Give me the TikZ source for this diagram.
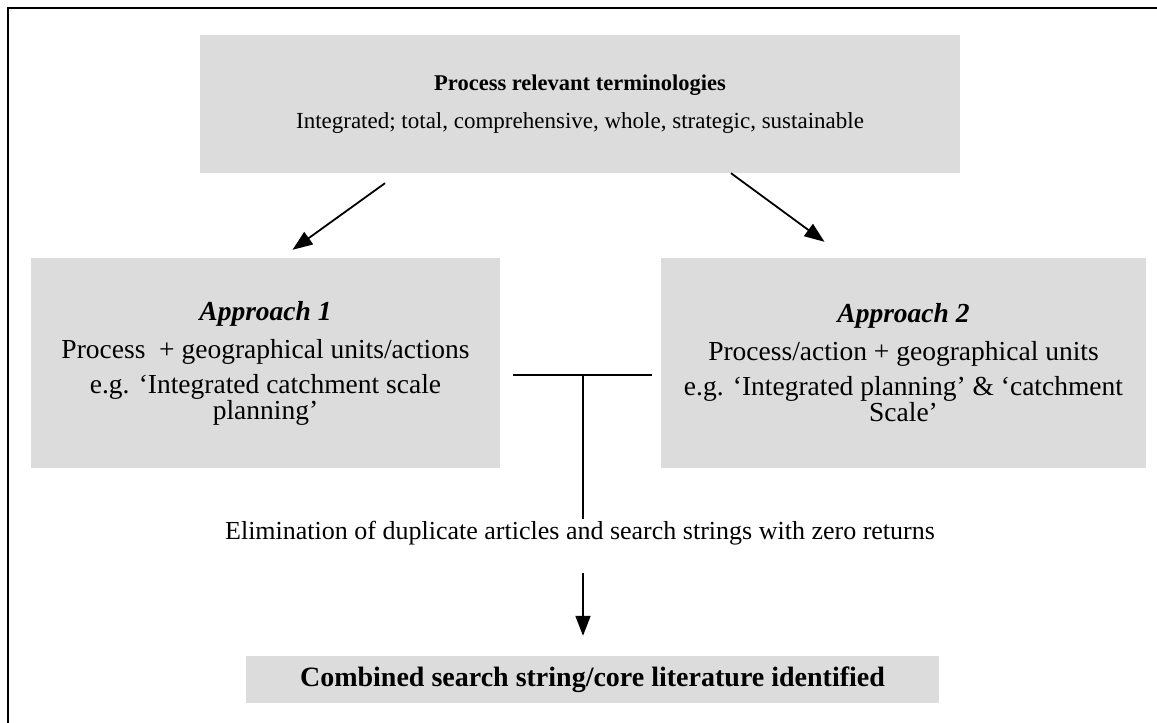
\documentclass[tikz,border=0pt]{standalone}
\usepackage{fontspec}
\setmainfont{Liberation Serif}
\usetikzlibrary{arrows.meta,positioning}
\definecolor{boxgray}{RGB}{220,220,220}

\tikzset{
    box/.style={fill=boxgray, align=center, inner sep=0pt, font=\fontsize{27.5}{26}\selectfont},
    plain/.style={align=center, inner sep=2pt, font=\fontsize{26}{28}\selectfont},
    arr/.style={line width=1.8pt, -{Triangle[length=20pt,width=15pt]}},
    link/.style={line width=1.8pt},
}

\begin{document}
\begin{tikzpicture}[x=1pt,y=-1pt]
        \useasboundingbox (0,0) rectangle (1157,723);
        \draw[line width=2pt] (8,723) -- (8,8) -- (1157,8);

        \node[box, minimum width=760, minimum height=138](terms) at (580,104)
            {\fontsize{22.5}{25}\selectfont\textbf{Process relevant terminologies}\\[12pt]
             \fontsize{23}{27}\selectfont Integrated; total, comprehensive, whole, strategic, sustainable};
        \node[box, minimum width=469, minimum height=210](app1) at (265.5,363)
            {\textbf{\textit{Approach 1}}\\[12pt]
             Process\ \ + geographical units/actions\\[9pt]
             e.g. `Integrated catchment scale\\ planning'};
        \node[box, minimum width=485, minimum height=210](app2) at (903.5,363)
            {\textbf{\textit{Approach 2}}\\[12pt]
             Process/action + geographical units\\[9pt]
             e.g. `Integrated planning' \& `catchment\\ Scale'};
        \node[plain](elim) at (580,533)
            {Elimination of duplicate articles and search strings with zero returns};
        \node[box, minimum width=693, minimum height=47](final) at (592.5,679.5)
            {\fontsize{28}{30}\selectfont\textbf{Combined search string/core literature identified}};

        % arrow ends
        \coordinate (t1) at ([shift={(-195,10)}]terms.south);
        \coordinate (a1) at ([shift={(27,-8)}]app1.north);
        \coordinate (t2) at ([shift={(151,0)}]terms.south);
        \coordinate (a2) at ([shift={(-79,-16)}]app2.north);
        \coordinate (jl) at ([shift={(13,12)}]app1.east);
        \coordinate (jr) at ([shift={(-9,12)}]app2.west);
        \coordinate (jm) at ([xshift=3pt]elim.north);

        \draw[arr] (t1) -- (a1);
        \draw[arr] (t2) -- (a2);
        \draw[link] (jl) -- (jr)
            (jl -| jm) -- (jm);
        \draw[arr] ([shift={(3,26)}]elim.south) -- ([yshift=20pt]jm |- final.north);
    \end{tikzpicture}
\end{document}
